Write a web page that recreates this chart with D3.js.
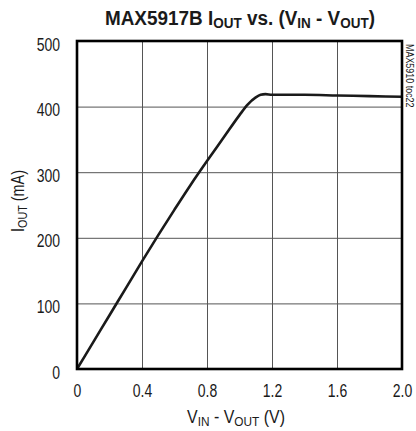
<!DOCTYPE html>
<html>
<head>
<meta charset="utf-8">
<script src="https://cdn.jsdelivr.net/npm/d3@7"></script>
<style>
  body { margin: 0; background: #fff; }
  svg text { font-family: "Liberation Sans", Arial, sans-serif; fill: #1a1a1a; }
</style>
</head>
<body>
<svg id="chart" width="416" height="431"></svg>
<script>
(function() {
    'use strict';

    // curve: V_IN - V_OUT (V) vs I_OUT (mA)
    var vdiff = [0, 0.1, 0.2, 0.3, 0.4, 0.5, 0.6, 0.7, 0.8, 0.9, 1.0, 1.05, 1.1, 1.13, 1.16, 1.2, 1.4, 1.6, 1.8, 2.0];
    var iout  = [0, 41, 82, 123, 164, 204, 243, 281, 317, 352, 387, 403, 414, 418, 419, 418, 418, 417, 416, 415];
    var xTicks = [0, 0.4, 0.8, 1.2, 1.6, 2.0];
    var xTickLabels = ["0", "0.4", "0.8", "1.2", "1.6", "2.0"];
    var yTicks = [0, 100, 200, 300, 400, 500];

    var margin = {top: 41, right: 14, bottom: 62, left: 77},
        width = 416 - margin.left - margin.right,
        height = 431 - margin.top - margin.bottom;

    // squeeze text horizontally to look like a condensed face
    function narrow(sel, f) {
        sel.each(function() {
            var w = this.getComputedTextLength();
            d3.select(this).attr("textLength", w * f).attr("lengthAdjust", "spacingAndGlyphs");
        });
    }

    // text with subscripts, squeezed to a target width with a scale transform
    function subText(parent, parts, size, subSize, cx, cy, rot, targetW) {
        var t = parent.append("text")
            .attr("text-anchor", "middle").attr("font-size", size);
        parts.forEach(function(p) {
            var ts = t.append("tspan").text(p[0]);
            if (p[1]) ts.attr("font-size", subSize).attr("baseline-shift", "-3");
        });
        var w = t.node().getComputedTextLength();
        t.attr("transform", "translate(" + cx + "," + cy + ")" + (rot ? " rotate(" + rot + ")" : "") +
            " scale(" + (targetW / w) + ",1)");
        return t;
    }

    var svg = d3.select("#chart");
    var g = svg.append("g")
        .attr("transform", "translate(" + margin.left + "," + margin.top + ")");

    var x = d3.scaleLinear().domain([0, 2]).range([0, width]);
    var y = d3.scaleLinear().domain([0, 500]).range([height, 0]);

    // grid
    g.append("g")
        .attr("class", "grid")
        .call(d3.axisBottom(x).tickValues(xTicks).tickFormat("").tickSize(height).tickSizeOuter(0))
        .call(function(s) { s.select(".domain").remove(); })
        .selectAll("line").attr("stroke", "#555").attr("stroke-width", 1);
    g.append("g")
        .attr("class", "grid")
        .call(d3.axisLeft(y).tickValues(yTicks).tickFormat("").tickSize(-width).tickSizeOuter(0))
        .call(function(s) { s.select(".domain").remove(); })
        .selectAll("line").attr("stroke", "#555").attr("stroke-width", 1);

    // tick labels
    var xAxis = g.append("g")
        .attr("transform", "translate(0," + height + ")")
        .call(d3.axisBottom(x).tickValues(xTicks).tickSize(0).tickPadding(16)
            .tickFormat(function(d, i) { return xTickLabels[i]; }));
    xAxis.select(".domain").remove();
    xAxis.selectAll("text").attr("font-size", 17.5).attr("fill", "#1a1a1a").attr("font-family", null)
        .call(narrow, 0.8);

    var yAxis = g.append("g")
        .call(d3.axisLeft(y).tickValues(yTicks).tickSize(0).tickPadding(17));
    yAxis.select(".domain").remove();
    yAxis.selectAll("text").attr("font-size", 17.5).attr("fill", "#1a1a1a").attr("font-family", null)
        .attr("dy", "0.52em")
        .call(narrow, 0.8);

    // data line
    var pts = vdiff.map(function(v, i) { return [v, iout[i]]; });
    g.append("path")
        .datum(pts)
        .attr("fill", "none")
        .attr("stroke", "#1a1a1a")
        .attr("stroke-width", 2.6)
        .attr("stroke-linejoin", "round")
        .attr("d", d3.line()
            .x(function(d) { return x(d[0]); })
            .y(function(d) { return y(d[1]); })
            .curve(d3.curveMonotoneX));

    // frame
    g.append("rect")
        .attr("width", width).attr("height", height)
        .attr("fill", "none").attr("stroke", "#000").attr("stroke-width", 2.6);

    // title
    subText(svg, [["MAX5917B I"], ["OUT", 1], [" vs. (V"], ["IN", 1], [" - V"], ["OUT", 1], [")"]],
        21, 15, 240, 25, 0, 266)
        .attr("font-weight", "bold").attr("fill", "#000");

    // x label
    subText(svg, [["V"], ["IN", 1], [" - V"], ["OUT", 1], [" (V)"]], 17.5, 13, 236, 423, 0, 98);

    // y label
    subText(svg, [["I"], ["OUT", 1], [" (mA)"]], 17.5, 13, 24, 201, -90, 62);

    // side id
    svg.append("text")
        .attr("transform", "translate(406,44) rotate(90)")
        .attr("font-size", 10.5).attr("fill", "#333")
        .text("MAX5910 toc22")
        .call(narrow, 0.85);
})();
</script>
</body>
</html>
